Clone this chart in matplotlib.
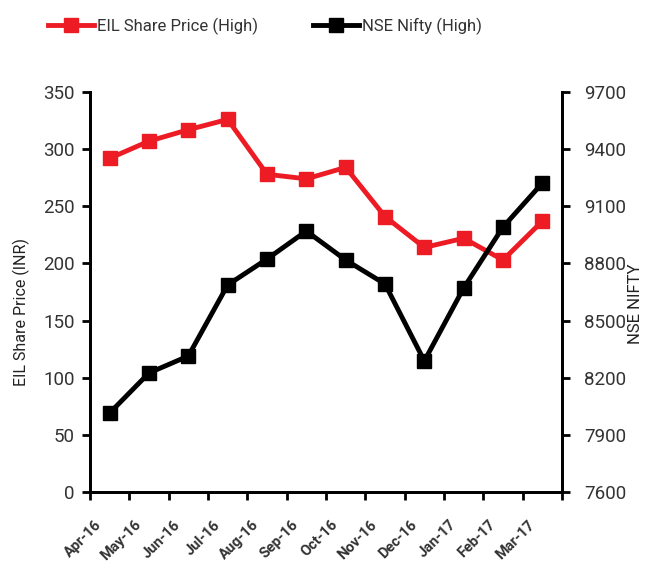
import matplotlib
matplotlib.use("Agg")
import matplotlib.pyplot as plt
from matplotlib.lines import Line2D
from matplotlib.transforms import ScaledTranslation

months = ["Apr-16", "May-16", "Jun-16", "Jul-16", "Aug-16", "Sep-16",
          "Oct-16", "Nov-16", "Dec-16", "Jan-17", "Feb-17", "Mar-17"]
eil = [292, 307, 317, 326, 278, 274, 284, 241, 214, 222, 203, 237]
nifty = [8015, 8225, 8314, 8687, 8823, 8970, 8818, 8692, 8288, 8671, 8991, 9222]

plt.rcParams['font.family'] = ['Roboto', 'DejaVu Sans']
RED = "#ED1C24"
TXT = "#333333"

fig = plt.figure(figsize=(6.46, 5.65), dpi=100)
ax = fig.add_axes([90/646, 73/565, 472/646, 400/565])
ax2 = ax.twinx()

x = list(range(len(months)))
ax.plot(x, eil, color=RED, lw=3.5, marker='s', ms=10, zorder=3)
ax2.plot(x, nifty, color='black', lw=3.5, marker='s', ms=10, zorder=3)

ax.set_xlim(-0.5, len(months) - 0.5)
ax.set_ylim(0, 350)
ax.set_yticks(range(0, 351, 50))
ax2.set_ylim(7600, 9700)
ax2.set_yticks(range(7600, 9701, 300))

ax.set_xticks([i - 0.5 for i in range(len(months) + 1)], minor=False)
ax.set_xticklabels([])
ax.set_xticks(x, minor=True)
ax.set_xticklabels(months, minor=True, rotation=45, ha='right', va='center',
                   rotation_mode='anchor', fontweight='bold', fontsize=10.5,
                   color=TXT)
ax.tick_params(axis='x', which='minor', length=0, pad=22)
ax.tick_params(axis='x', which='major', length=6, width=2, direction='out')
off = ScaledTranslation(-10/100, 0, fig.dpi_scale_trans)
for lab in ax.get_xticklabels(minor=True):
    lab.set_transform(lab.get_transform() + off)

for a in (ax, ax2):
    a.spines['top'].set_visible(False)
    for s in ('left', 'right', 'bottom'):
        a.spines[s].set_linewidth(2)
ax.tick_params(axis='y', length=6, width=2, labelsize=13.5, labelcolor=TXT, pad=5)
ax2.tick_params(axis='y', length=6, width=2, labelsize=13.5, labelcolor=TXT, pad=10)

ax.set_ylabel("EIL Share Price (INR)", fontsize=11.5, color='#222222')
ax.yaxis.set_label_coords(-0.127, 0.45)
ax2.set_ylabel("NSE NIFTY", fontsize=12, color='#222222')
ax2.yaxis.set_label_coords(1.140, 0.47)

h1 = Line2D([], [], color=RED, lw=3.5, marker='s', ms=10)
h2 = Line2D([], [], color='black', lw=3.5, marker='s', ms=10)
common = dict(loc='center left', frameon=False, fontsize=12,
              handlelength=2.75, handletextpad=0.2, borderaxespad=0,
              borderpad=0, labelcolor=TXT)
fig.legend([h1], ["EIL Share Price (High)"],
           bbox_to_anchor=(48/646, 1 - 26/565), **common)
fig.legend([h2], ["NSE Nifty (High)"],
           bbox_to_anchor=(313/646, 1 - 26/565), **common)

fig.savefig("out.png", dpi=100)
